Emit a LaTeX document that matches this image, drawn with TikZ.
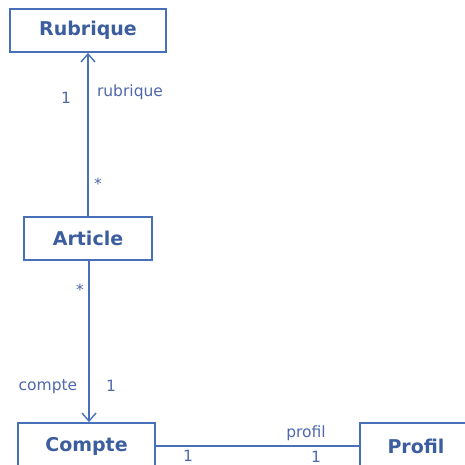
\documentclass[tikz,border=0pt]{standalone}
\usepackage{fontspec}
\setmainfont{DejaVu Sans}
\usetikzlibrary{arrows.meta}
\definecolor{umlline}{HTML}{4870B8}
\definecolor{umltext}{HTML}{3D5E9E}
\definecolor{umllabel}{HTML}{5068AC}
\tikzset{
  cls/.style={draw=umlline, line width=1.8pt, fill=white, text=umltext,
    font=\bfseries\fontsize{19}{22}\selectfont, inner sep=0pt},
  assoc/.style={draw=umlline, line width=1.6pt},
  nav/.style={assoc, -{Straight Barb[length=8pt, width=14pt, line width=1.4pt]}},
  lbl/.style={text=umllabel, font=\fontsize{15.5}{18}\selectfont, inner sep=0pt}
}
\begin{document}
\begin{tikzpicture}[x=1pt, y=-1pt]
\useasboundingbox (0,0) rectangle (464,465);
\fill[white] (0,0) rectangle (464,465);

% classes
\node[cls, minimum width=156pt, minimum height=43pt] (rub) at (88,30.5) {Rubrique};
\node[cls, minimum width=128pt, minimum height=43pt] (art) at (88,238.5) {Article};
\node[cls, minimum width=137pt, minimum height=46pt] (cpt) at (86.5,446) {Compte};
\node[cls, minimum width=112pt, minimum height=46pt] (prf) at (416,446) {Profil};

% associations
\draw[nav] (art.north) -- (rub.south);
\draw[nav] ([xshift=1pt]art.south) -- ([xshift=2.5pt]cpt.north);
\draw[assoc] (cpt.east) -- (prf.west);

% roles and multiplicities
\node[lbl] (m1) at (66,98) {1};
\node[lbl] (r1) at (130,92) {rubrique};
\node[lbl] (m2) at (98,184) {*};
\node[lbl] (m3) at (80,290) {*};
\node[lbl] (r2) at (48,387) {compte};
\node[lbl] (m4) at (111,386) {1};
\node[lbl] (r3) at (306,433) {profil};
\node[lbl] (m5) at (188,456) {1};
\node[lbl] (m6) at (316,457) {1};
\end{tikzpicture}
\end{document}
